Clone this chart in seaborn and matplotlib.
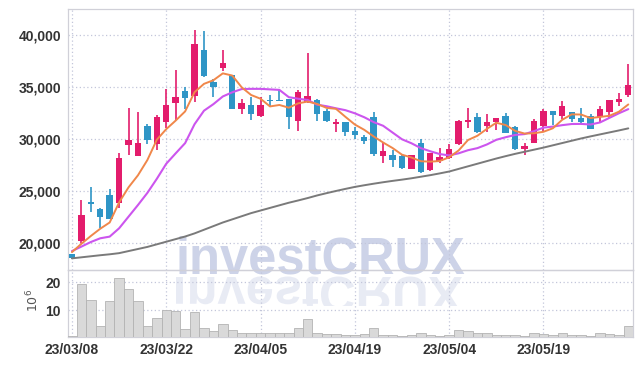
import numpy as np
import pandas as pd
import matplotlib
matplotlib.use("Agg")
import matplotlib.pyplot as plt
import seaborn as sns
from matplotlib import font_manager as fm
from matplotlib.textpath import TextPath
from matplotlib.patches import PathPatch, Rectangle
from matplotlib.transforms import Affine2D, IdentityTransform
from matplotlib.ticker import FuncFormatter, FixedLocator

# ---------------- data ----------------
tick_labels = ["23/03/08", "23/03/22", "23/04/05", "23/04/19", "23/05/04", "23/05/19"]

open_ = [18950, 20220, 23880, 23300, 24640, 23900, 29480, 28430, 31280, 29580,
         31630, 33520, 34640, 34160, 38590, 35540, 36890, 36180, 32950, 33270,
         32270, 33680, 33700, 33870, 31790, 33620, 33780, 32720, 31500, 31660,
         30800, 30250, 32140, 28430, 28490, 28390, 27180, 29610, 27080, 27950,
         28230, 29515, 31700, 32140, 31310, 31695, 32240, 31210, 29100, 29610,
         31280, 32720, 32240, 32620, 32050, 32240, 32180, 32660, 33620, 34290]
close = [18550, 22720, 23820, 22560, 22370, 28200, 29930, 29640, 29900, 32110,
         33300, 34070, 34000, 39160, 36120, 35060, 37370, 32950, 33490, 32430,
         33270, 33640, 33660, 32180, 34550, 34130, 32460, 31790, 31700, 30730,
         30440, 29870, 28590, 28840, 28040, 27270, 28490, 26820, 28650, 28300,
         29070, 31760, 31890, 30670, 31630, 32020, 30640, 29100, 29360, 31760,
         32720, 32370, 33200, 31950, 31660, 31020, 32910, 33780, 33870, 35190]
high = [19000, 24130, 25380, 23400, 25190, 28650, 32980, 32590, 31440, 32370,
        34800, 36660, 35030, 40510, 40410, 35770, 38550, 36200, 33910, 34100,
        34040, 34260, 34800, 33900, 34740, 38330, 33900, 32880, 31980, 31700,
        31210, 30400, 32620, 29710, 28970, 28450, 28500, 30030, 28700, 29130,
        29515, 31850, 32980, 32500, 32400, 32080, 32500, 31300, 29600, 31920,
        32880, 32750, 33680, 32650, 33010, 32400, 33170, 33800, 34420, 37240]
low = [18500, 20060, 23040, 21440, 22300, 23360, 28460, 28400, 29520, 28970,
       31050, 31850, 32880, 33550, 36020, 34070, 36570, 32930, 32400, 31860,
       32180, 33140, 33640, 30990, 30800, 33460, 31760, 31700, 30670, 30350,
       30030, 29520, 28430, 27690, 27370, 27110, 27150, 26800, 26980, 27750,
       28150, 29450, 31050, 30600, 30730, 30890, 30600, 28940, 28520, 29600,
       30730, 31370, 31950, 31700, 31600, 30980, 31700, 32020, 33170, 34100]

ma_short = [19150, 19950, 20700, 21400, 22000, 23930, 25380, 26540, 28010, 29960,
            30980, 31800, 32680, 34530, 35330, 35680, 36340, 36130, 35000, 34260,
            33900, 33160, 33300, 33040, 33460, 33630, 33400, 33020, 32930, 32160,
            31420, 30910, 30270, 29690, 29160, 28520, 28250, 27890, 27850, 27910,
            28270, 28920, 29930, 30340, 31000, 31590, 31370, 30810, 30550, 30580,
            30720, 31060, 31880, 32400, 32380, 32040, 32150, 32260, 32650, 33350]
ma_mid = [19250, 19680, 20120, 20480, 20640, 21440, 22560, 23680, 24850, 26200,
          27650, 28650, 29630, 31450, 32750, 33380, 34120, 34520, 34830, 34850,
          34850, 34800, 34750, 34050, 33900, 33780, 33330, 33180, 32980, 32800,
          32500, 32120, 31650, 31300, 30650, 30000, 29620, 29150, 28850, 28580,
          28450, 28650, 28950, 29150, 29500, 29950, 30200, 30420, 30500, 30780,
          31120, 31220, 31360, 31470, 31480, 31420, 31620, 32060, 32500, 32900]
ma_long = [18550, 18650, 18750, 18850, 18940, 19050, 19250, 19450, 19650, 19900,
           20150, 20400, 20650, 20950, 21300, 21650, 22000, 22300, 22600, 22900,
           23150, 23400, 23650, 23900, 24120, 24350, 24600, 24820, 25030, 25230,
           25420, 25580, 25730, 25870, 26000, 26120, 26250, 26400, 26550, 26720,
           26900, 27150, 27400, 27650, 27900, 28150, 28380, 28600, 28800, 29000,
           29200, 29420, 29640, 29860, 30080, 30280, 30470, 30660, 30850, 31050]

volume = [0.8, 19.3, 13.6, 4.6, 13.2, 21.4, 17.5, 13.2, 4.3, 7.1,
          10.0, 9.6, 3.2, 9.3, 3.6, 2.5, 5.0, 2.9, 1.8, 1.8,
          1.8, 1.8, 1.8, 2.1, 3.6, 6.8, 1.8, 1.4, 1.4, 1.1,
          1.1, 1.4, 3.6, 1.1, 1.1, 0.7, 1.1, 1.8, 1.1, 0.7,
          1.1, 2.9, 2.5, 1.8, 1.8, 1.1, 1.1, 1.1, 0.7, 2.1,
          1.4, 1.1, 1.8, 1.1, 1.1, 0.7, 1.8, 1.4, 1.1, 4.3]

df = pd.DataFrame({"open": open_, "close": close, "high": high, "low": low,
                   "ma_short": ma_short, "ma_mid": ma_mid, "ma_long": ma_long,
                   "volume": volume})
df["idx"] = np.arange(len(df))

# ---------------- style ----------------
sns.set_theme(style="white")


def has_font(name):
    try:
        fm.findfont(fm.FontProperties(family=name), fallback_to_default=False)
        return True
    except Exception:
        return False


tick_family = ["Liberation Sans Narrow", "DejaVu Sans"] if has_font("Liberation Sans Narrow") else ["Liberation Sans", "DejaVu Sans"]
plt.rcParams["font.family"] = ["DejaVu Sans"]

UP = "#e31c6c"
DOWN = "#2f95c6"
GRID = "#c3c6da"
SPINE = "#d0d0d8"
TXT = "#333333"

W, H = 642, 366
fig = plt.figure(figsize=(W / 100, H / 100), dpi=100)
fig.patch.set_facecolor("white")

L, R = 68, 633
ax = fig.add_axes([L / W, 1 - 270 / H, (R - L) / W, (270 - 9) / H])
axv = fig.add_axes([L / W, 1 - 337 / H, (R - L) / W, (337 - 270) / H], sharex=ax)
for a in (ax, axv):
    a.set_facecolor("none")
    for s in a.spines.values():
        s.set_color(SPINE)
        s.set_linewidth(0.9)

# ---------------- candles ----------------
up = df["close"] >= df["open"]
cols = np.where(up, UP, DOWN)
ax.vlines(df["idx"], df["low"], df["high"], colors=cols, linewidth=1.2, zorder=3)
body_bottom = np.minimum(df["open"], df["close"])
body_h = np.maximum(np.abs(df["close"] - df["open"]), 110)
ax.bar(df["idx"], body_h, bottom=body_bottom, width=0.68, color=cols,
       linewidth=0, zorder=4)

# ---------------- moving averages ----------------
sns.lineplot(data=df, x="idx", y="ma_long", ax=ax, color="#7a7a7a", linewidth=1.4, zorder=5)
sns.lineplot(data=df, x="idx", y="ma_mid", ax=ax, color="#cc55ee", linewidth=1.5, zorder=6)
sns.lineplot(data=df, x="idx", y="ma_short", ax=ax, color="#f0874a", linewidth=1.4, zorder=7)

# ---------------- volume ----------------
axv.bar(df["idx"], df["volume"], width=1.0, color="#d9d9d9", edgecolor="#b3b3b3",
        linewidth=0.6, zorder=3)

# ---------------- axes / ticks ----------------
xticks = list(range(0, 10 * len(tick_labels), 10))
ax.set_xlim(-0.42, 59.5)
ax.set_ylim(17430, 42530)
axv.set_ylim(0.5, 24.4)

ax.yaxis.set_major_locator(FixedLocator([20000, 25000, 30000, 35000, 40000]))
ax.yaxis.set_major_formatter(FuncFormatter(lambda v, p: f"{v:,.0f}"))
axv.yaxis.set_major_locator(FixedLocator([10, 20]))
axv.set_xticks(xticks)
axv.set_xticklabels(tick_labels)
ax.tick_params(axis="x", labelbottom=False, length=0)

for a in (ax, axv):
    a.set_xlabel("")
    a.set_ylabel("")
    a.grid(True, color=GRID, linestyle=(0, (1, 2)), linewidth=0.9)
    a.set_axisbelow(True)
    a.tick_params(length=0, pad=5, labelcolor=TXT)
    for lab in a.get_xticklabels() + a.get_yticklabels():
        lab.set_family(tick_family)
        lab.set_fontweight("bold")
        lab.set_fontsize(10)
axv.tick_params(axis="x", pad=4)

fig.text(33 / W, 1 - 300 / H, r"$10^6$", rotation=90, ha="center", va="center",
         fontsize=9, color="#555555")

# ---------------- watermark ----------------
WM = "#cdd3e8"
wm_family = tick_family
fp = fm.FontProperties(family=wm_family, weight="bold")
probe = TextPath((0, 0), "investCRUX", size=100, prop=fp)
ext = probe.get_extents()
target_w = 462 - 176
size_px = 100 * target_w / ext.width
size_px = min(size_px, 62)
fig.text(176 / W, 1 - 274 / H, "investCRUX", fontsize=size_px * 0.72,
         family=wm_family, weight="bold", color=WM, ha="left", va="baseline",
         zorder=-1)

# mirrored reflection (decorative)
tp = TextPath((0, 0), "investCRUX", size=size_px, prop=fp)
trans = Affine2D().scale(1, -1).translate(176 - ext.x0 * size_px / 100, H - 277)
patch = PathPatch(tp, transform=trans + IdentityTransform(), facecolor=WM,
                  edgecolor="none", alpha=0.45, zorder=-1)
fig.add_artist(patch)
patch.set_clip_box(axv.bbox)
clip_rect = Rectangle((L, H - 306), R - L, 30, transform=IdentityTransform())
patch.set_clip_path(clip_rect)

fig.savefig("out.png", dpi=100)
